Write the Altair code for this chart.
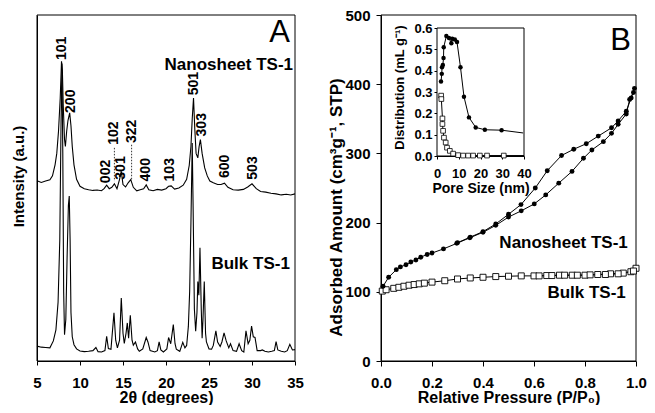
import altair as alt
import pandas as pd

FONT = "Liberation Sans"

# ---------------- Panel A: XRD patterns ----------------
ns_2t = [5.0, 5.5, 6.0, 6.5, 6.8, 7.1, 7.3, 7.5, 7.7, 7.85, 7.95, 8.05, 8.2, 8.3, 8.45, 8.6, 8.8, 8.95,
         9.1, 9.3, 9.6, 10.0, 10.5, 11.0, 11.5, 12.0, 12.5, 12.8, 13.1, 13.4, 13.7, 14.0, 14.3, 14.6,
         14.8, 15.0, 15.3, 15.6, 15.9, 16.2, 16.6, 17.0, 17.4, 17.7, 18.0, 18.5, 19.0, 19.5, 20.0, 20.3,
         20.6, 21.0, 21.5, 22.0, 22.4, 22.7, 22.9, 23.05, 23.2, 23.35, 23.5, 23.7, 23.85, 24.0, 24.2,
         24.5, 24.8, 25.1, 25.5, 26.0, 26.4, 26.8, 27.2, 27.8, 28.4, 29.0, 29.5, 30.0, 30.5, 31.0, 31.6,
         32.2, 32.8, 33.4, 34.0, 34.5, 35.0]
ns_int = [52.1, 51.6, 52.0, 52.4, 53.5, 56.7, 60.0, 66.4, 76.0, 86.6, 84.0, 74.0, 64.0, 62.0, 66.4, 69.5,
          71.7, 68.0, 62.0, 56.7, 52.5, 50.5, 49.8, 49.5, 49.3, 49.4, 49.2, 49.8, 50.8, 49.8, 50.2, 51.2,
          49.8, 52.5, 54.8, 51.0, 50.3, 51.5, 52.4, 50.2, 49.2, 49.5, 49.8, 50.9, 49.5, 49.2, 49.6, 49.4,
          49.8, 50.5, 50.6, 49.7, 50.0, 50.8, 52.5, 56.5, 62.0, 70.0, 76.0, 67.0, 60.0, 58.7, 62.0, 64.0,
          60.0, 55.8, 53.5, 52.0, 51.5, 51.0, 51.0, 51.4, 50.2, 49.5, 49.4, 49.6, 50.3, 51.2, 49.8, 49.0,
          48.8, 48.5, 48.3, 48.0, 48.2, 48.0, 48.3]

bk_2t = [5.0, 5.5, 6.0, 6.5, 6.9, 7.2, 7.45, 7.65, 7.8, 7.9, 8.0, 8.1, 8.2, 8.35, 8.5, 8.65, 8.75, 8.85,
         8.95, 9.1, 9.3, 9.6, 10.0, 10.5, 11.0, 11.5, 11.85, 12.1, 12.5, 12.9, 13.1, 13.3, 13.6, 13.95,
         14.15, 14.35, 14.6, 14.8, 15.0, 15.15, 15.35, 15.5, 15.65, 15.85, 16.05, 16.2, 16.45, 16.7, 16.9,
         17.3, 17.7, 17.9, 18.15, 18.7, 19.0, 19.2, 19.4, 19.7, 20.1, 20.3, 20.55, 20.85, 21.05, 21.2,
         21.6, 21.95, 22.2, 22.4, 22.6, 22.75, 22.9, 23.05, 23.15, 23.3, 23.45, 23.6, 23.7, 23.82, 23.95,
         24.1, 24.2, 24.3, 24.45, 24.6, 24.7, 25.0, 25.3, 25.5, 25.8, 26.0, 26.3, 26.5, 26.75, 27.0, 27.3,
         27.5, 27.8, 28.2, 28.5, 28.8, 29.05, 29.3, 29.55, 29.75, 29.95, 30.15, 30.35, 30.6, 31.0, 31.2,
         31.5, 31.9, 32.3, 32.6, 32.8, 33.0, 33.4, 33.8, 34.1, 34.4, 34.7, 35.0]
bk_int = [4.3, 4.0, 3.9, 3.8, 5.8, 9.0, 17.0, 35.0, 70.0, 86.0, 60.0, 20.0, 7.6, 12.0, 30.0, 45.0, 47.7,
          35.0, 14.0, 7.0, 4.7, 3.5, 2.9, 2.7, 2.8, 3.0, 3.9, 2.7, 2.6, 3.0, 7.1, 3.6, 3.4, 13.9, 6.0, 3.8,
          6.0, 18.2, 8.0, 5.1, 8.0, 11.0, 6.6, 13.2, 6.0, 4.6, 5.5, 3.5, 2.8, 3.5, 6.8, 5.5, 3.0, 2.6, 3.0,
          5.5, 3.2, 2.6, 3.5, 6.8, 5.0, 10.5, 5.0, 3.4, 2.8, 5.4, 3.8, 4.5, 10.0, 20.0, 40.0, 63.0, 45.0,
          15.0, 8.6, 14.0, 23.0, 19.0, 32.7, 15.0, 6.6, 12.0, 23.0, 8.0, 5.5, 3.5, 3.4, 4.5, 8.7, 5.5, 4.2,
          5.5, 8.1, 5.8, 3.8, 5.0, 3.0, 2.8, 5.0, 3.0, 2.6, 8.7, 5.0, 6.0, 10.1, 7.0, 6.8, 3.0, 3.0, 3.2,
          2.8, 2.6, 2.8, 3.0, 5.6, 3.2, 2.8, 2.6, 3.0, 4.8, 3.2, 3.3]

peak_labels = ["101", "200", "002", "102", "301", "322", "400", "103", "501", "303", "600", "503"]
peak_label_2t = [7.87, 8.9, 13.0, 13.9, 14.8, 16.1, 17.7, 20.5, 23.2, 24.2, 26.9, 30.1]
peak_label_int = [87.0, 71.7, 51.4, 62.5, 52.4, 63.0, 51.9, 51.9, 76.8, 64.9, 52.9, 52.4]
leader_2t = [14.0, 16.0]
leader_top = [61.6, 62.5]
leader_bottom = [52.0, 52.4]

A_xticks = [5, 10, 15, 20, 25, 30, 35]
A_ydomain = [0, 100]

# ---------------- Panel B: N2 isotherms ----------------
ns_ads_p = [0.008, 0.03, 0.06, 0.076, 0.098, 0.117, 0.137, 0.156, 0.181, 0.2, 0.245, 0.297, 0.348, 0.4,
            0.45, 0.5, 0.55, 0.601, 0.646, 0.697, 0.749, 0.794, 0.827, 0.872, 0.904, 0.93, 0.962, 0.975, 0.99]
ns_ads_v = [108, 121, 132, 136, 139, 143, 146, 150, 154, 156, 162, 170, 178, 186, 196, 208, 217, 227, 240,
            257, 274, 293, 305, 317, 329, 342, 357, 378, 388]
ns_des_p = [0.994, 0.981, 0.962, 0.93, 0.904, 0.852, 0.805, 0.756, 0.708, 0.652, 0.605, 0.549, 0.5, 0.45,
            0.4, 0.35, 0.3]
ns_des_v = [394, 380, 361, 347, 337, 325, 314, 306, 297, 275, 250, 226, 212, 198, 187, 179, 171]

bk_ads_p = [0.005, 0.02, 0.05, 0.07, 0.09, 0.11, 0.13, 0.15, 0.17, 0.2, 0.25, 0.3, 0.35, 0.4, 0.45, 0.5,
            0.55, 0.6, 0.65, 0.7, 0.75, 0.8, 0.85, 0.9, 0.95, 0.98, 1.0]
bk_ads_v = [101, 103, 105, 106.5, 108, 109.5, 110.5, 111.5, 112.5, 114, 116, 118.5, 120, 121, 122, 122.5,
            123, 123, 123.5, 124, 124, 124, 125, 126, 127, 129, 134]
bk_des_p = [0.99, 0.93, 0.88, 0.82, 0.77, 0.72, 0.67, 0.62]
bk_des_v = [130, 126, 125, 124.5, 124, 124, 123.5, 123]

B_xticks = [0.0, 0.2, 0.4, 0.6, 0.8, 1.0]
B_yticks = [0, 100, 200, 300, 400, 500]

# ---------------- Inset: pore size distribution ----------------
psd_ns_d = [1.85, 2.2, 2.3, 2.7, 3.0, 3.1, 4.3, 5.5, 6.6, 7.0, 8.2, 9.2, 10.8, 12.4, 14.7, 17.8, 22.0, 29.7, 39.6]
psd_ns_v = [0.349, 0.385, 0.416, 0.427, 0.459, 0.51, 0.562, 0.553, 0.529, 0.55, 0.546, 0.534, 0.416, 0.278,
            0.181, 0.134, 0.123, 0.121, 0.108]
psd_bk_d = [1.9, 2.0, 2.5, 2.5, 2.8, 3.2, 4.0, 4.6, 5.9, 7.4, 9.7, 12.0, 14.3, 16.6, 19.7, 23.0, 30.7, 40.0]
psd_bk_v = [0.283, 0.267, 0.176, 0.15, 0.118, 0.086, 0.063, 0.039, 0.024, 0.011, 0.004, 0.002, 0.002,
            0.002, 0.002, 0.002, 0.002, 0.002]
IN_xticks = [0, 10, 20, 30, 40]
IN_yticks = [0.0, 0.1, 0.2, 0.3, 0.4, 0.5, 0.6]

# ---------------- layout (pixels) ----------------
W, H = 599, 346
A_XR = [0, 258]
B_XR = [344, 599]
IN_XR = [400, 487]
IN_YR = [141, 13]


def ax(**kw):
    base = dict(grid=False, domainColor="black", tickColor="black", labelColor="black", titleColor="black",
                labelFont=FONT, titleFont=FONT, labelFontWeight="bold", titleFontWeight="bold",
                labelFlush=False, labelOverlap=False, domainWidth=1, tickWidth=1)
    base.update(kw)
    return alt.Axis(**base)


# ---- Panel A encodings ----
xA = alt.X("x:Q", scale=alt.Scale(domain=[A_xticks[0], A_xticks[-1]], range=A_XR, nice=False, zero=False),
           axis=ax(orient="bottom", values=A_xticks, title="2θ (degrees)", tickSize=4, labelPadding=10,
                   labelFontSize=15, titleFontSize=16, titleY=41, titleBaseline="alphabetic"))
yA = alt.Y("y:Q", scale=alt.Scale(domain=A_ydomain, range=[H, 0], nice=False, zero=False),
           axis=ax(orient="left", labels=False, ticks=False, title="Intensity (a.u.)", titleFontSize=15,
                   titleX=-19, titleY=161, titleBaseline="middle"))

dA = pd.DataFrame({"x": ns_2t + bk_2t, "y": ns_int + bk_int,
                   "s": ["ns"] * len(ns_2t) + ["bk"] * len(bk_2t)})
frameA = alt.Chart(pd.DataFrame({"x": [A_xticks[0]], "x2": [A_xticks[-1]], "y": [A_ydomain[0]],
                                 "y2": [A_ydomain[1]]})).mark_rect(
    fillOpacity=0, stroke="black", strokeWidth=1).encode(x=xA, x2="x2:Q", y=yA, y2="y2:Q")
lineA = alt.Chart(dA).mark_line(color="black", strokeWidth=1.1).encode(x=xA, y=yA, detail="s:N")
leadA = alt.Chart(pd.DataFrame({"x": leader_2t, "y": leader_top, "y2": leader_bottom})).mark_rule(
    color="black", strokeWidth=0.8, strokeDash=[1.5, 1.5]).encode(x=xA, y=yA, y2="y2:Q")
peakA = alt.Chart(pd.DataFrame({"x": peak_label_2t, "y": peak_label_int, "t": peak_labels})).mark_text(
    angle=270, align="left", baseline="middle", font=FONT, fontWeight="bold", fontSize=14, color="black"
).encode(x=xA, y=yA, text="t:N")
letterA = alt.Chart(pd.DataFrame({"x": [34.4], "y": [92.2], "t": ["A"]})).mark_text(
    align="right", baseline="alphabetic", font=FONT, fontSize=31, color="black").encode(x=xA, y=yA, text="t:N")
namesA = alt.Chart(pd.DataFrame({"x": [34.77, 34.4], "y": [84.1, 26.7],
                                 "t": ["Nanosheet TS-1", "Bulk TS-1"]})).mark_text(
    align="right", baseline="alphabetic", font=FONT, fontWeight="bold", fontSize=17, color="black"
).encode(x=xA, y=yA, text="t:N")
panelA = alt.layer(frameA, lineA, leadA, peakA, letterA, namesA)

# ---- Panel B encodings ----
xB = alt.X("x:Q", scale=alt.Scale(domain=[B_xticks[0], B_xticks[-1]], range=B_XR, nice=False, zero=False),
           axis=ax(orient="bottom", values=B_xticks, format=".1f", title="Relative Pressure (P/P₀)",
                   tickSize=5, labelPadding=9, labelFontSize=15, titleFontSize=16, titleY=41,
                   titleBaseline="alphabetic"))
yB = alt.Y("y:Q", scale=alt.Scale(domain=[B_yticks[0], B_yticks[-1]], range=[H, 0], nice=False, zero=False),
           axis=ax(orient="left", offset=-(B_XR[0]), values=B_yticks, tickSize=5, labelPadding=6,
                   labelFontSize=15, title="Adsorbed Amount (cm³g⁻¹, STP)", titleFontSize=17,
                   titleX=-45, titleY=192, titleBaseline="middle"))

dBns = pd.DataFrame({"x": ns_ads_p + ns_des_p, "y": ns_ads_v + ns_des_v,
                     "b": ["a"] * len(ns_ads_p) + ["d"] * len(ns_des_p)})
dBbk = pd.DataFrame({"x": bk_ads_p + bk_des_p, "y": bk_ads_v + bk_des_v,
                     "b": ["a"] * len(bk_ads_p) + ["d"] * len(bk_des_p)})
frameB = alt.Chart(pd.DataFrame({"x": [B_xticks[0]], "x2": [B_xticks[-1]], "y": [B_yticks[0]],
                                 "y2": [B_yticks[-1]]})).mark_rect(
    fillOpacity=0, stroke="black", strokeWidth=1).encode(x=xB, x2="x2:Q", y=yB, y2="y2:Q")
lineBbk = alt.Chart(dBbk).mark_line(color="black", strokeWidth=1).encode(x=xB, y=yB, detail="b:N")
ptBbk = alt.Chart(dBbk).mark_square(size=36, fill="white", stroke="black", strokeWidth=0.9, opacity=1).encode(
    x=xB, y=yB)
lineBns = alt.Chart(dBns).mark_line(color="black", strokeWidth=1).encode(x=xB, y=yB, detail="b:N")
ptBns = alt.Chart(dBns).mark_circle(size=24, color="black", opacity=1).encode(x=xB, y=yB)
letterB = alt.Chart(pd.DataFrame({"x": [0.98], "y": [449], "t": ["B"]})).mark_text(
    align="right", baseline="alphabetic", font=FONT, fontSize=31, color="black").encode(x=xB, y=yB, text="t:N")
namesB = alt.Chart(pd.DataFrame({"x": [0.968, 0.96], "y": [163, 91],
                                 "t": ["Nanosheet TS-1", "Bulk TS-1"]})).mark_text(
    align="right", baseline="alphabetic", font=FONT, fontWeight="bold", fontSize=17, color="black"
).encode(x=xB, y=yB, text="t:N")
panelB = alt.layer(frameB, lineBbk, lineBns, ptBbk, ptBns, letterB, namesB)

# ---- Inset encodings ----
xI = alt.X("x:Q", scale=alt.Scale(domain=[IN_xticks[0], IN_xticks[-1]], range=IN_XR, nice=False, zero=False),
           axis=ax(orient="bottom", offset=-(H - IN_YR[0]), values=IN_xticks, tickSize=3, labelPadding=8,
                   labelFontSize=13, title="Pore Size (nm)", titleFontSize=14, titleY=36,
                   titleBaseline="alphabetic"))
yI = alt.Y("y:Q", scale=alt.Scale(domain=[IN_yticks[0], IN_yticks[-1]], range=IN_YR, nice=False, zero=False),
           axis=ax(orient="left", offset=-(IN_XR[0]), values=IN_yticks, format=".1f", tickSize=3,
                   labelPadding=2, labelFontSize=13, title="Distribution (mL g⁻¹)", titleFontSize=13,
                   titleX=-38, titleY=72, titleBaseline="middle"))

dIns = pd.DataFrame({"x": psd_ns_d, "y": psd_ns_v})
dIbk = pd.DataFrame({"x": psd_bk_d, "y": psd_bk_v})
frameI = alt.Chart(pd.DataFrame({"x": [IN_xticks[0]], "x2": [IN_xticks[-1]], "y": [IN_yticks[0]],
                                 "y2": [IN_yticks[-1]]})).mark_rect(
    fill="white", stroke="black", strokeWidth=1).encode(x=xI, x2="x2:Q", y=yI, y2="y2:Q")
lineIbk = alt.Chart(dIbk).mark_line(color="black", strokeWidth=1).encode(x=xI, y=yI)
ptIbk = alt.Chart(dIbk.iloc[:-1]).mark_square(size=22, fill="white", stroke="black", strokeWidth=0.8,
                                              opacity=1).encode(x=xI, y=yI)
lineIns = alt.Chart(dIns).mark_line(color="black", strokeWidth=1).encode(x=xI, y=yI)
ptIns = alt.Chart(dIns.iloc[:-1]).mark_circle(size=20, color="black", opacity=1).encode(x=xI, y=yI)
panelI = alt.layer(frameI, lineIbk, lineIns, ptIbk, ptIns)

chart = alt.layer(panelA, panelB, panelI).resolve_scale(x="independent", y="independent").properties(
    width=W, height=H, padding={"left": 29, "top": 7, "right": 11, "bottom": 44},
    autosize=alt.AutoSizeParams(type="none")
).configure_view(stroke=None)

chart.save("out.html", embed_options={"renderer": "svg", "actions": False})
